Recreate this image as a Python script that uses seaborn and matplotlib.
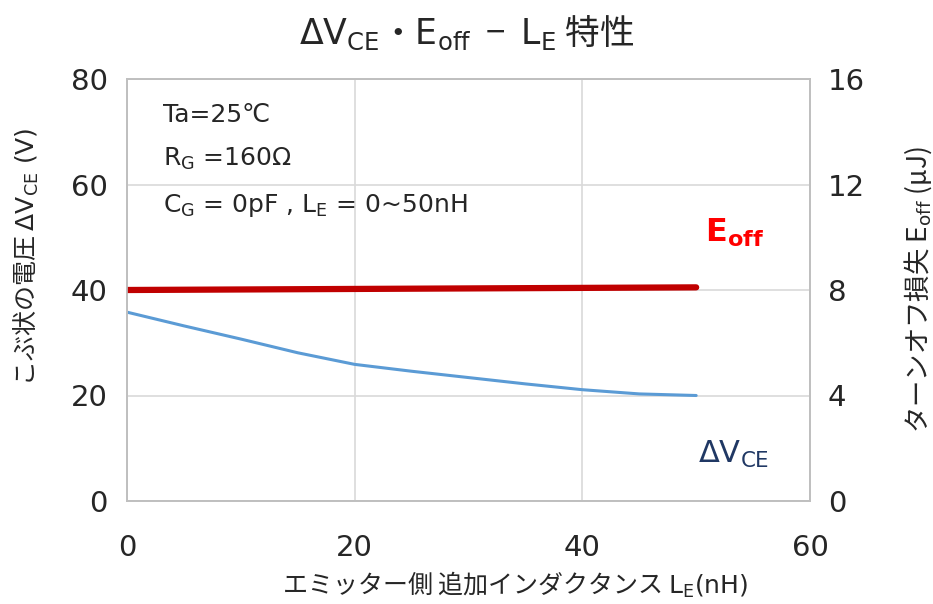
import matplotlib
matplotlib.use("Agg")
import matplotlib.pyplot as plt
import seaborn as sns
import pandas as pd

# data
le_dv = [0, 5, 10, 15, 20, 25, 30, 35, 40, 45, 50]
dv_ce = [35.8, 33.2, 30.7, 28.1, 25.9, 24.6, 23.4, 22.2, 21.1, 20.3, 20.0]
le_eoff = [0, 10, 20, 30, 40, 50]
e_off = [8.00, 8.02, 8.04, 8.06, 8.08, 8.10]

x_ticks = [0, 20, 40, 60]
y_ticks_left = [0, 20, 40, 60, 80]
y_ticks_right = [0, 4, 8, 12, 16]

sns.set_style("white")
plt.rcParams["font.family"] = ["Noto Sans CJK JP", "DejaVu Sans"]
plt.rcParams["mathtext.fontset"] = "custom"
plt.rcParams["mathtext.rm"] = "DejaVu Sans"
plt.rcParams["mathtext.bf"] = "DejaVu Sans:bold"
LAT = "DejaVu Sans"

df_dv = pd.DataFrame({"L": le_dv, "dV": dv_ce})
df_e = pd.DataFrame({"L": le_eoff, "E": e_off})

fig = plt.figure(figsize=(9.33, 6.04), dpi=100)
ax = fig.add_axes([127 / 933, 1 - 501 / 604, (810 - 127) / 933, (501 - 79) / 604])
ax2 = ax.twinx()

sns.lineplot(data=df_dv, x="L", y="dV", ax=ax, color="#5B9BD5", linewidth=2.2)
sns.lineplot(data=df_e, x="L", y="E", ax=ax2, color="#C00000", linewidth=4.5,
             solid_capstyle="round")

ax.set_xlim(0, 60)
ax.set_ylim(0, 80)
ax2.set_ylim(0, 16)
ax.set_xticks(x_ticks)
ax.set_yticks(y_ticks_left)
ax2.set_yticks(y_ticks_right)
ax.grid(True, color="#D9D9D9", linewidth=1.2)
ax.set_axisbelow(True)
ax.tick_params(labelsize=21, length=0, colors="#262626")
ax.tick_params(axis="x", pad=24)
ax.tick_params(axis="y", pad=14)
ax2.tick_params(labelsize=21, length=0, pad=13, colors="#262626")
for lab in ax.get_xticklabels() + ax.get_yticklabels() + ax2.get_yticklabels():
    lab.set_family(LAT)
for a in (ax, ax2):
    for s in a.spines.values():
        s.set_color("#BFBFBF")
        s.set_linewidth(1.2)

ax.set_xlabel("エミッター側 追加インダクタンス $\\mathrm{L_E(nH)}$", fontsize=18)
ax.xaxis.set_label_coords(0.568, -0.163)
ax.set_ylabel("こぶ状の電圧 $\\mathrm{\\Delta V_{CE}\\ (V)}$", fontsize=18)
ax.yaxis.set_label_coords(-0.126, 0.578)
ax2.set_ylabel("ターンオフ損失 $\\mathrm{E_{off}}$ (μJ)", fontsize=19)
ax2.yaxis.set_label_coords(1.135, 0.5)
fig.suptitle("$\\mathrm{\\Delta V_{CE}}$・$\\mathrm{E_{off}}$  −  $\\mathrm{L_E}$ 特性",
             fontsize=25, y=0.978)

ax.text(0.053, 0.915, "Ta=25℃", transform=ax.transAxes, fontsize=18, va="center", family=LAT)
ax.text(0.053, 0.81, "R$_{\\mathrm{G}}$ =160Ω", transform=ax.transAxes, fontsize=18,
        va="center", family=LAT)
ax.text(0.053, 0.70, "C$_{\\mathrm{G}}$ = 0pF , L$_{\\mathrm{E}}$ = 0~50nH", transform=ax.transAxes,
        fontsize=18, va="center", family=LAT)
ax.text(0.89, 0.635, "E$_{\\mathbf{off}}$", transform=ax.transAxes, fontsize=23,
        color="#FF0000", fontweight="bold", ha="center", va="center", family=LAT)
ax.text(0.888, 0.11, "ΔV$_{\\mathrm{CE}}$", transform=ax.transAxes, fontsize=22,
        color="#203864", ha="center", va="center", family=LAT)

fig.savefig("out.png", dpi=100)
